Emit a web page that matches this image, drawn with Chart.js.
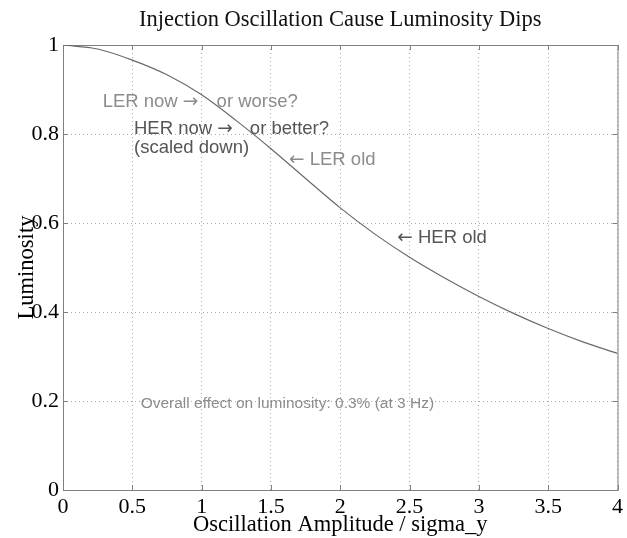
<!DOCTYPE html>
<html>
<head>
<meta charset="utf-8">
<script src="https://cdn.jsdelivr.net/npm/chart.js@4"></script>
<style>
  body { margin: 0; background: #fff; }
  canvas { display: block; }
</style>
</head>
<body>
<canvas id="lumi_chart" width="627" height="538"></canvas>
<script>
// DATA
const amplitude = [0, 0.25, 0.5, 0.75, 1, 1.25, 1.5, 1.75, 2, 2.25, 2.5, 2.75, 3, 3.25, 3.5, 3.75, 4];
const luminosity = [1.0, 0.991, 0.966, 0.933, 0.888, 0.830, 0.767, 0.700, 0.634, 0.575, 0.523, 0.477, 0.435, 0.397, 0.363, 0.333, 0.307];

const x_ticks = [0, 0.5, 1, 1.5, 2, 2.5, 3, 3.5, 4];
const y_ticks = [0, 0.2, 0.4, 0.6, 0.8, 1];

const chart_title = "Injection Oscillation Cause Luminosity Dips";

// notes placed in data units
const note_text = ["LER now \u2192", "or worse?", "HER now \u2192", "or better?", "(scaled down)", "\u2190 LER old", "\u2190 HER old", "Overall effect on luminosity: 0.3% (at 3 Hz)"];
const note_x = [0.286, 1.108, 0.512, 1.348, 0.512, 1.631, 2.412, 0.56];
const note_y = [0.871, 0.871, 0.811, 0.811, 0.769, 0.742, 0.566, 0.194];
const note_light = [true, true, false, false, false, true, false, true];
const note_size = [18.5, 18.5, 18.5, 18.5, 18.5, 18.5, 18.5, 15.5];

const SERIF = "'Liberation Serif', 'Times New Roman', serif";
const SANS = "'Liberation Sans', Arial, sans-serif";
const ARROWS = "'DejaVu Sans', sans-serif";
const LIGHT = "#8c8c8c";
const DARK = "#555555";
const FRAME = "#808080";

const ctx = document.getElementById("lumi_chart").getContext("2d");

// FRAME + INWARD TICKS (matlab style box)
const framePlugin = {
  id: "frame",
  beforeDatasetsDraw(chart) {
    const { ctx, chartArea: a, scales } = chart;
    ctx.save();
    ctx.strokeStyle = FRAME;
    ctx.lineWidth = 1;
    ctx.strokeRect(a.left + 0.5, a.top + 0.5, a.right - a.left, a.bottom - a.top);
    ctx.beginPath();
    x_ticks.forEach(v => {
      const px = Math.round(scales.x.getPixelForValue(v)) + 0.5;
      ctx.moveTo(px, a.bottom); ctx.lineTo(px, a.bottom - 5);
      ctx.moveTo(px, a.top); ctx.lineTo(px, a.top + 5);
    });
    y_ticks.forEach(v => {
      const py = Math.round(scales.y.getPixelForValue(v)) + 0.5;
      ctx.moveTo(a.left, py); ctx.lineTo(a.left + 5, py);
      ctx.moveTo(a.right, py); ctx.lineTo(a.right - 5, py);
    });
    ctx.stroke();
    ctx.restore();
  }
};

// TITLE (centred over the plot box) + TEXT NOTES
const notePlugin = {
  id: "notes",
  afterDraw(chart) {
    const { ctx, scales, chartArea: a } = chart;
    ctx.save();
    ctx.fillStyle = "#111";
    ctx.font = "22.5px " + SERIF;
    ctx.textAlign = "center";
    ctx.textBaseline = "middle";
    ctx.fillText(chart_title, (a.left + a.right) / 2, 20);

    ctx.textAlign = "left";
    note_text.forEach((t, i) => {
      ctx.fillStyle = note_light[i] ? LIGHT : DARK;
      let x = scales.x.getPixelForValue(note_x[i]);
      const y = scales.y.getPixelForValue(note_y[i]);
      // arrows look better in DejaVu, the rest in Liberation Sans
      t.split(/([\u2190\u2192])/).forEach(part => {
        if (!part) return;
        const isArrow = part === "\u2190" || part === "\u2192";
        ctx.font = note_size[i] + "px " + (isArrow ? ARROWS : SANS);
        ctx.fillText(part, x, y);
        x += ctx.measureText(part).width;
      });
    });
    ctx.restore();
  }
};

const grid_opts = {
  color: "#a8a8a8",
  lineWidth: 1,
  drawTicks: false
};

new Chart(ctx, {
  type: "line",
  data: {
    datasets: [
      {
        data: amplitude.map((a, i) => ({ x: a, y: luminosity[i] })),
        borderColor: "#6a6a6a",
        borderWidth: 1.2,
        pointRadius: 0,
        fill: false,
        cubicInterpolationMode: "monotone"
      }
    ]
  },
  options: {
    responsive: false,
    animation: false,
    layout: { padding: { left: 0, right: 9, top: 45, bottom: 0 } },
    plugins: {
      legend: { display: false },
      tooltip: { enabled: false },
      title: { display: false }
    },
    scales: {
      x: {
        type: "linear",
        min: 0,
        max: 4,
        afterBuildTicks: s => { s.ticks = x_ticks.map(v => ({ value: v })); },
        afterFit: s => { s.height = 48; },
        grid: grid_opts,
        border: { display: false, dash: [1, 3] },
        ticks: {
          color: "#000",
          padding: 4,
          maxRotation: 0,
          font: { family: SERIF, size: 22 },
          callback: v => String(v)
        },
        title: {
          display: true,
          text: "Oscillation Amplitude / sigma_y",
          color: "#000",
          font: { family: SERIF, size: 22.5 },
          padding: { top: 0, bottom: -1 }
        }
      },
      y: {
        type: "linear",
        min: 0,
        max: 1,
        afterBuildTicks: s => { s.ticks = y_ticks.map(v => ({ value: v })); },
        afterFit: s => { s.width = 63; },
        grid: grid_opts,
        border: { display: false, dash: [1, 3] },
        ticks: {
          color: "#000",
          padding: 4,
          font: { family: SERIF, size: 22 },
          callback: v => String(v)
        },
        title: {
          display: true,
          text: "Luminosity",
          color: "#000",
          font: { family: SERIF, size: 22.5 },
          padding: { top: 14, bottom: 0 }
        }
      }
    }
  },
  plugins: [framePlugin, notePlugin]
});
</script>
</body>
</html>
